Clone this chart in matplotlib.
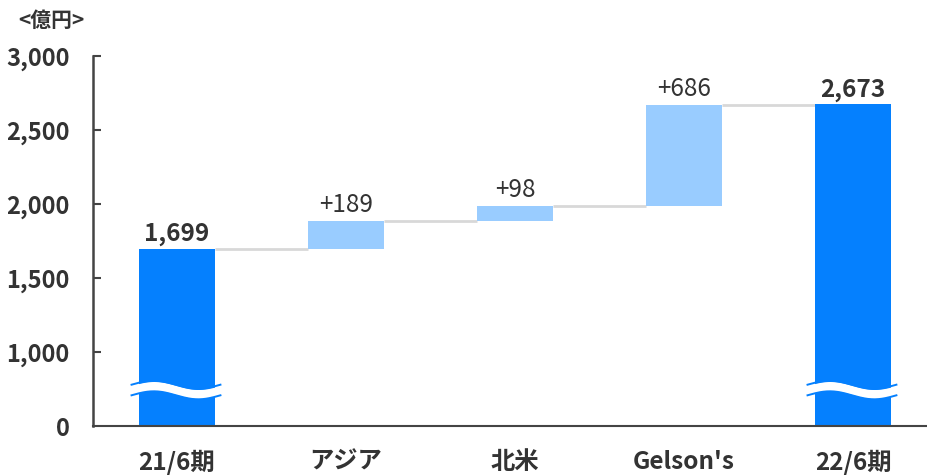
import numpy as np
import matplotlib
matplotlib.use("Agg")
import matplotlib.pyplot as plt
from matplotlib.transforms import blended_transform_factory

plt.rcParams['font.family'] = ['Noto Sans CJK JP', 'DejaVu Sans']

# --- data (億円) ---
categories = ['21/6期', 'アジア', '北米', "Gelson's", '22/6期']
start_value = 1699
deltas = [189, 98, 686]
end_value = 2673
value_labels = ['1,699', '+189', '+98', '+686', '2,673']
y_ticks = [0, 1000, 1500, 2000, 2500, 3000]
y_tick_labels = ['0', '1,000', '1,500', '2,000', '2,500', '3,000']
unit_label = '<億円>'

dark_blue = '#0580fe'
light_blue = '#99ccff'
text_color = '#333333'
axis_color = '#444444'
connector_color = '#d8d8d8'


# broken axis: 0..1000 compressed to half the height of a normal 500 step
def fwd(v):
    v = np.asarray(v, dtype=float)
    return np.where(v >= 1000, v, 500 + v / 2)


def inv(u):
    u = np.asarray(u, dtype=float)
    return np.where(u >= 1000, u, (u - 500) * 2)


fig = plt.figure(figsize=(9.28, 4.76), dpi=100)
ax = fig.add_axes([93 / 928, 50 / 476, 835 / 928, 370 / 476])
ax.set_yscale('function', functions=(fwd, inv))

x = np.arange(len(categories))
width = 0.455

# waterfall geometry
levels = np.cumsum([start_value] + deltas)
bottoms = [0] + list(levels[:-1]) + [0]
heights = [start_value] + deltas + [end_value]
colors = [dark_blue] + [light_blue] * len(deltas) + [dark_blue]
tops = [b + h for b, h in zip(bottoms, heights)]

ax.bar(x, heights, bottom=bottoms, width=width, color=colors, zorder=2)

# connector lines between consecutive bars
for i in range(len(categories) - 1):
    lvl = tops[i]
    ax.plot([x[i] + width / 2, x[i + 1] - width / 2], [lvl, lvl],
            color=connector_color, lw=2, zorder=1, solid_capstyle='butt')

# value labels
for i, lab in enumerate(value_labels):
    bold = i in (0, len(categories) - 1)
    ax.annotate(lab, (x[i], tops[i]), xytext=(0, 2), textcoords='offset points',
                ha='center', va='bottom', fontsize=17.5, color=text_color,
                fontweight='bold' if bold else 'normal')

# wavy break marks across the total bars
trans = blended_transform_factory(ax.transData, ax.transAxes)
px_x = 1 / 169.0
px_y = 1 / 370.0
for i in (0, len(categories) - 1):
    xs = np.linspace(x[i] - width / 2 - 7 * px_x, x[i] + width / 2 + 5 * px_x, 200)
    phase = (xs - xs[0]) / (xs[-1] - xs[0]) * 2 * np.pi
    center = 36 * px_y + 4 * px_y * np.sin(phase)
    upper = center + 4.5 * px_y
    lower = center - 4.5 * px_y
    ax.fill_between(xs, lower, upper, color='white', transform=trans, zorder=3, lw=0)
    ax.plot(xs, upper + 0.8 * px_y, color=dark_blue, lw=1.4, transform=trans, zorder=3)
    ax.plot(xs, lower - 0.8 * px_y, color=dark_blue, lw=1.4, transform=trans, zorder=3)

# axes styling
ax.set_xlim(x[0] - 0.497, x[-1] + 0.444)
ax.set_ylim(0, 3000)
ax.set_yticks(y_ticks)
ax.set_yticklabels(y_tick_labels)
ax.set_xticks(x)
ax.set_xticklabels(categories)

for s in ('top', 'right'):
    ax.spines[s].set_visible(False)
ax.spines['left'].set_color(axis_color)
ax.spines['left'].set_linewidth(1.8)
ax.spines['bottom'].set_color(axis_color)
ax.spines['bottom'].set_linewidth(1.5)
ax.spines['bottom'].set_zorder(4)

ax.tick_params(axis='y', direction='in', length=6, width=1.5, color=axis_color,
               labelsize=17, labelcolor=text_color, pad=17)
ax.tick_params(axis='x', length=0, labelsize=17.5, labelcolor=text_color, pad=17)
for t in ax.get_yticklabels() + ax.get_xticklabels():
    t.set_fontweight('bold')
ax.yaxis.get_major_ticks()[0].tick1line.set_visible(False)

fig.text(18 / 928, 1 - 20 / 476, unit_label, ha='left', va='center',
         fontsize=15, fontweight='bold', color=text_color)

fig.savefig('out.png', dpi=100, facecolor='white')
